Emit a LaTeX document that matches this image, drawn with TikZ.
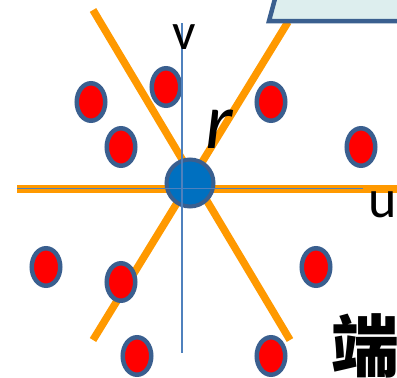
\documentclass[tikz,border=0pt]{standalone}
\usepackage{fontspec}
\setmainfont{Carlito}
\newfontfamily\cjk{Noto Sans CJK SC}
\usetikzlibrary{shapes.geometric}
\definecolor{edgeblue}{HTML}{3A5F8F}
\definecolor{dotred}{HTML}{FF0000}
\definecolor{hubblue}{HTML}{0070C0}
\definecolor{axisblue}{HTML}{4F81BD}
\definecolor{raycol}{HTML}{FF9900}
\definecolor{panelfill}{HTML}{DDEEEE}
\begin{document}
\begin{tikzpicture}[x=1pt,y=-1pt,
  dot/.style={ellipse, draw=edgeblue, line width=4.5pt, fill=dotred,
    minimum width=28.5pt, minimum height=37.5pt, inner sep=0pt},
  hub/.style={circle, draw=edgeblue, line width=4pt, fill=hubblue,
    minimum size=47pt, inner sep=0pt},
  ray/.style={draw=raycol, line width=7.5pt},
  axis/.style={draw=axisblue, line width=1.8pt},
  lbl/.style={inner sep=0pt, text=black}]
\useasboundingbox (0,0) rectangle (397,378);
% rays
\coordinate (r1a) at (93,10);
\coordinate (r1b) at (290,340);
\coordinate (r2a) at (288,22);
\coordinate (r2b) at (93,340);
\coordinate (r3a) at (17,189);
\coordinate (r3b) at (400,189);
\draw[ray] (r1a) -- (r1b);
\draw[ray] (r2a) -- (r2b);
\draw[ray] (r3a) -- (r3b);
% panel
\path[fill=panelfill, draw=edgeblue, line width=4.5pt]
  (269,21) -- (276,-5) -- (405,-5) -- (405,21) -- cycle;
% hub
\node[hub] (hub) at (190,183) {};
% dots
\node[dot] (d1) at (91,102) {};
\node[dot] (d2) at (166,87) {};
\node[dot] (d3) at (121,147) {};
\node[dot] (d4) at (271,102) {};
\node[dot] (d5) at (361,147) {};
\node[dot] (d6) at (46,267) {};
\node[dot] (d7) at (121,282) {};
\node[dot] (d8) at (316,267) {};
\node[dot] (d9) at (137,356) {};
\node[dot] (d10) at (271,356) {};
% axes
\coordinate (vtop) at (182,23);
\coordinate (vbot) at (182,353);
\coordinate (ul) at (17,188.5);
\coordinate (ur) at (363,188.5);
\draw[axis] (vtop) -- (vbot);
\draw[axis] (ul) -- (ur);
% labels
\node[lbl, anchor=base, font=\fontsize{52}{52}\selectfont] (vl) at (184,49) {v};
\node[lbl, anchor=base, font=\fontsize{54}{54}\selectfont] (ulb) at (383,217) {u};
\node[lbl, anchor=base west, font=\fontsize{80}{80}\selectfont\itshape] (rl) at (205,148) {r};
\node[lbl, anchor=base west, font=\fontsize{68}{68}\selectfont\cjk\bfseries] (duan) at (331,371) {端};
\end{tikzpicture}
\end{document}
